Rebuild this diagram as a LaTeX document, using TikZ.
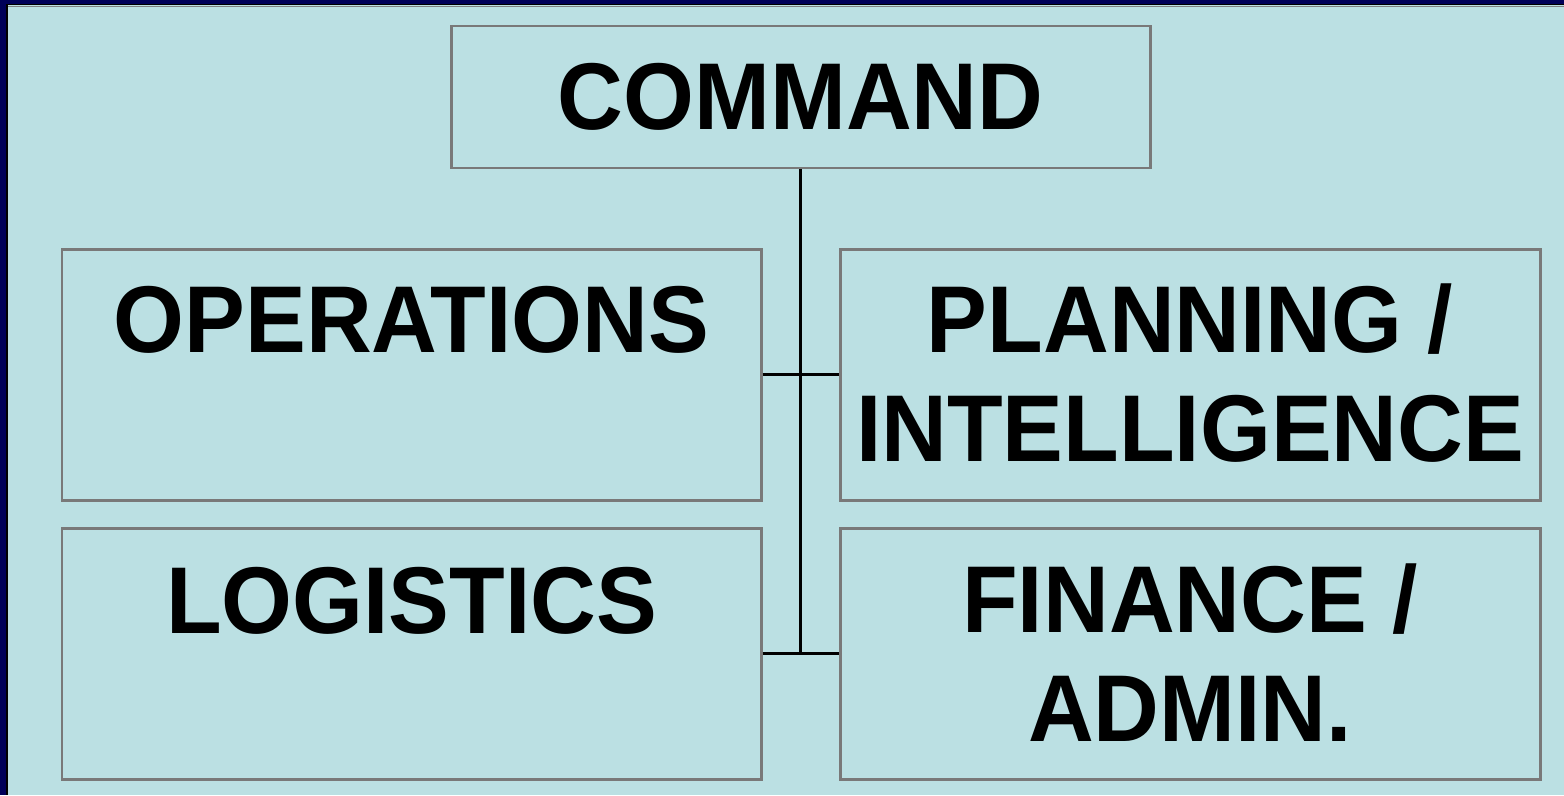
\documentclass[tikz,border=0pt]{standalone}
\usepackage{fontspec}
\setmainfont{Liberation Sans}[FakeStretch=0.96]
\definecolor{slidebg}{HTML}{BBE0E3}
\definecolor{navy}{HTML}{000058}
\tikzset{
  unitbox/.style={draw=gray!95!black, line width=1.7pt, inner sep=0pt},
  unitname/.style={font=\fontsize{54}{62}\selectfont\bfseries, align=center, anchor=base, inner sep=0pt},
  link/.style={black, line width=1.7pt}
}
\begin{document}
\begin{tikzpicture}[x=0.02cm,y=-0.02cm]
    \useasboundingbox (0,0) rectangle (1564,795);
    \fill[navy] (0,0) rectangle (1564,795);
    \fill[slidebg] (7,5) rectangle (1564,795);
    \draw[black,line width=0.9pt] (7,795) -- (7,4.5) -- (1564,4.5);
    \draw[gray,line width=0.5pt] (8,6) -- (1564,6);
    \node[unitbox, minimum width=699*0.02cm, minimum height=142*0.02cm] (cmd) at (800.5,97) {};
    \node[unitbox, minimum width=699*0.02cm, minimum height=251*0.02cm] (ops) at (411.5,374.5) {};
    \node[unitbox, minimum width=700*0.02cm, minimum height=251*0.02cm] (plan) at (1190,374.5) {};
    \node[unitbox, minimum width=699*0.02cm, minimum height=251*0.02cm] (log) at (411.5,653.5) {};
    \node[unitbox, minimum width=700*0.02cm, minimum height=251*0.02cm] (fin) at (1190,653.5) {};
    \node[unitname] (cmdtxt) at (800.5,129) {COMMAND};
    \node[unitname] (opstxt) at (411.5,352) {OPERATIONS};
    \node[unitname] (plantxt) at (1190,461) {PLANNING /\\INTELLIGENCE};
    \node[unitname] (logtxt) at (411.5,633) {LOGISTICS};
    \node[unitname] (fintxt) at (1190,741) {FINANCE /\\ADMIN.};
    \draw[link] (cmd.south) -- (cmd.south |- log.east);
    \draw[link] (ops.east) -- (plan.west);
    \draw[link] (log.east) -- (fin.west);
\end{tikzpicture}
\end{document}
